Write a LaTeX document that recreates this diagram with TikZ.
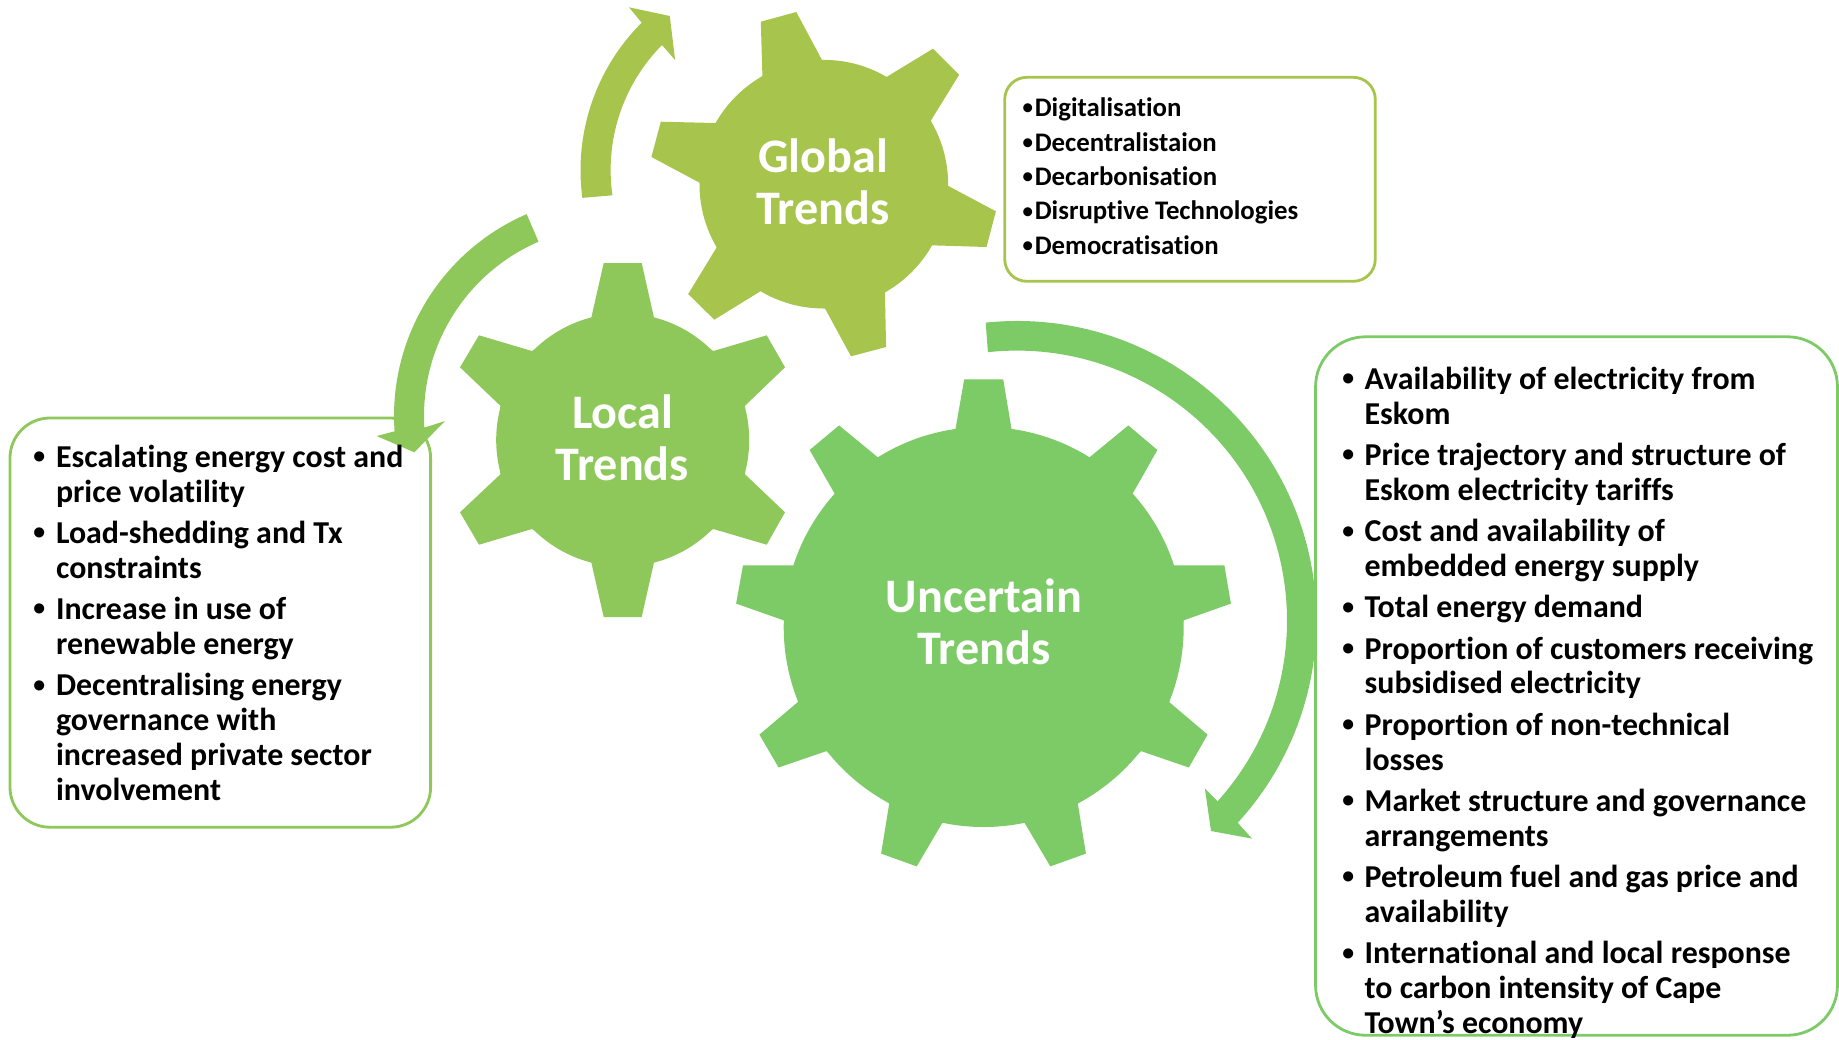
\documentclass[tikz,border=0pt]{standalone}
\usepackage{fontspec}
\usetikzlibrary{calc}
\setmainfont{Carlito}[Ligatures=NoCommon]
\newfontfamily\bulfont{Liberation Sans}
\definecolor{globalc}{HTML}{A7C44C}
\definecolor{localc}{HTML}{8FC85A}
\definecolor{uncertc}{HTML}{7DCB66}
\newcommand\itm{\llap{\raisebox{-0.8pt}{\bulfont\fontsize{20}{20}\selectfont •}\hspace{5.8pt}}}
\newcommand\itmS{\llap{\raisebox{-1.3pt}{\bulfont\fontsize{17.7}{18}\selectfont •}\hspace{0.9pt}}}
\newcommand\li[1]{\hbox{#1}}
\newcommand\gp{\vskip 3.55pt}
\tikzset{
  x=0.02cm,y=0.02cm,
  gear/.style={fill=#1,draw=none},
  boxr/.style={draw=#1,line width=1.6pt,fill=white,inner sep=0pt,outer sep=0pt,rectangle},
  golabel/.style={anchor=base,inner sep=0pt,text=white,font=\fontsize{27.4}{29.6}\selectfont\bfseries},
  listbig/.style={anchor=base west,inner sep=0pt,text=black,font=\fontsize{18.15}{19.9}\selectfont\bfseries},
  listsmall/.style={anchor=base west,inner sep=0pt,text=black,font=\fontsize{15.25}{19.6}\selectfont\bfseries},
}
\begin{document}
\begin{tikzpicture}
\useasboundingbox (0,0) rectangle (1839,-1039);
% ---- boxes
\node[boxr=globalc,rounded corners=0.44cm,minimum width=7.412cm,minimum height=4.08cm] (gbox) at (1190,-179.3) {};
\node[boxr=localc,rounded corners=0.8cm,minimum width=8.414cm,minimum height=8.186cm] (lbox) at (220.3,-622.6) {};
\node[boxr=uncertc,rounded corners=1cm,minimum width=10.44cm,minimum height=13.972cm] (ubox) at (1576.5,-686) {};
% ---- gears
\coordinate (gc) at (823.8,-184.2);
\coordinate (lc) at (622.7,-440);
\coordinate (uc) at (983.7,-627);
\fill[gear=globalc] (gc) circle[radius=124.3];
\fill[gear=globalc] (760.8,-21.7) -- (796.3,-12) -- (822,-60) -- (886.5,-77) -- (933,-48.7) -- (959.2,-74.7) -- (930.6,-121) -- (947.8,-185.7) -- (995.9,-211.3) -- (986.5,-247) -- (931.4,-245.3) -- (884.9,-292.3) -- (886.1,-347) -- (851,-356.3) -- (824.9,-308.3) -- (760.8,-291) -- (714.3,-319.7) -- (688.2,-294) -- (716.7,-247.3) -- (699.6,-182.7) -- (651.4,-157) -- (660.8,-121.7) -- (715.5,-123) -- (762.4,-76) -- cycle;
\fill[gear=localc] (lc) circle[radius=126.5];
\fill[gear=localc] (603.7,-263) -- (641.7,-263) -- (654,-317.7) -- (713.3,-351) -- (766.7,-335.3) -- (785,-367.3) -- (745,-405.7) -- (745,-474.3) -- (785,-512.3) -- (766.7,-544.7) -- (713.3,-529) -- (654,-562.3) -- (641.7,-617) -- (603.7,-617) -- (591.3,-562.3) -- (532,-529) -- (479,-544.7) -- (460,-512.3) -- (500.3,-474.3) -- (500.3,-405.7) -- (460,-367.3) -- (479,-335.3) -- (532,-351) -- (591.3,-317.7) -- cycle;
\fill[gear=uncertc] (uc) circle[radius=200];
\fill[gear=uncertc] (964.2,-379.3) -- (1003.2,-379.3) -- (1011.6,-429.6) -- (1089.3,-457.5) -- (1128.3,-425.4) -- (1157.4,-450) -- (1132.5,-493.9) -- (1173.5,-565.4) -- (1224.4,-565.4) -- (1230.9,-603.6) -- (1183.4,-620.4) -- (1168.9,-701.8) -- (1207.6,-734.6) -- (1188.8,-767.5) -- (1141,-751.1) -- (1077.8,-803.6) -- (1085.9,-853.6) -- (1050.3,-866.4) -- (1024.6,-822.9) -- (942.3,-822.9) -- (916.7,-866.4) -- (881.1,-853.6) -- (889.2,-803.6) -- (826.4,-751.1) -- (778.6,-767.5) -- (759.4,-734.6) -- (798.1,-701.8) -- (783.9,-620.4) -- (736.1,-603.6) -- (743,-565.4) -- (793.9,-565.4) -- (834.8,-493.9) -- (809.6,-450) -- (839,-425.4) -- (878.1,-457.5) -- (955.4,-429.6) -- cycle;
% ---- curved block arrows
\coordinate (ta) at (788.5,-170);
\coordinate (la) at (614,-416);
\coordinate (ua) at (1017,-620.5);
\fill[globalc] ($(ta)+(187.7:208)$) arc[start angle=187.7,end angle=134.9,radius=4.16cm] -- (629,-7.3) -- (669.8,-16) -- (675.1,-60) -- (662,-45) arc[start angle=135.3,end angle=188.2,radius=3.554cm] -- cycle;
\fill[localc] ($(la)+(113.4:220)$) arc[start angle=113.4,end angle=184,radius=4.4cm] -- (376.7,-436) -- (414.3,-452.3) -- (445,-421) -- ($(la)+(183.5:190)$) arc[start angle=183.5,end angle=113.4,radius=3.8cm] -- cycle;
\fill[uncertc] ($(ua)+(96:299.5)$) arc[start angle=96,end angle=-42.5,radius=5.99cm] -- (1252,-838.6) -- (1211,-831) -- (1204.9,-788.6) -- ($(ua)+(-42:270)$) arc[start angle=-42,end angle=96.2,radius=5.4cm] -- cycle;
% ---- gear labels
\node[golabel] (gt) at (822.9,-172.9) {\vtop{\halign{\hfil#\hfil\cr Global\cr Trends\cr}}};
\node[golabel] (lt) at (622.5,-428.5) {\vtop{\halign{\hfil#\hfil\cr Local\cr Trends\cr}}};
\node[golabel] (ut) at (984,-612.4) {\vtop{\halign{\hfil#\hfil\cr Uncertain\cr Trends\cr}}};
% ---- lists
\node[listsmall] (gl) at (1034.5,-116.6) {\vtop{
\li{\itmS Digitalisation}
\li{\itmS Decentralistaion}
\li{\itmS Decarbonisation}
\li{\itmS Disruptive Technologies}
\li{\itmS Democratisation}}};
\node[listbig] (ll) at (55.7,-467.2) {\vtop{
\li{\itm Escalating energy cost and}
\li{price volatility}\gp
\li{\itm Load-shedding and Tx}
\li{constraints}\gp
\li{\itm Increase in use of}
\li{renewable energy}\gp
\li{\itm Decentralising energy}
\li{governance with}
\li{increased private sector}
\li{involvement}}};
\node[listbig] (ul) at (1364.3,-389.3) {\vtop{
\li{\itm Availability of electricity from}
\li{Eskom}\gp
\li{\itm Price trajectory and structure of}
\li{Eskom electricity tariffs}\gp
\li{\itm Cost and availability of}
\li{embedded energy supply}\gp
\li{\itm Total energy demand}\gp
\li{\itm Proportion of customers receiving}
\li{subsidised electricity}\gp
\li{\itm Proportion of non-technical}
\li{losses}\gp
\li{\itm Market structure and governance}
\li{arrangements}\gp
\li{\itm Petroleum fuel and gas price and}
\li{availability}\gp
\li{\itm International and local response}
\li{to carbon intensity of Cape}
\li{Town’s economy}}};
\end{tikzpicture}
\end{document}
